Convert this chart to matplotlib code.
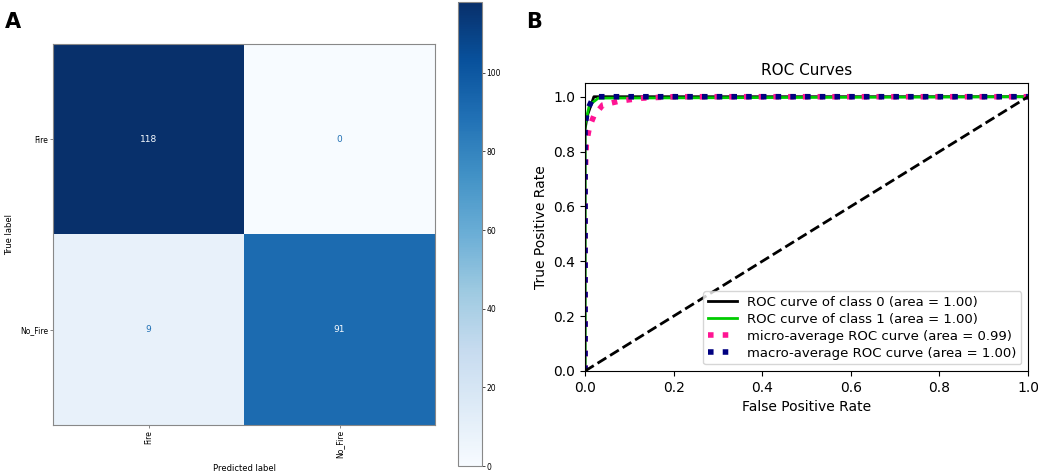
import numpy as np
import matplotlib
matplotlib.use("Agg")
import matplotlib.pyplot as plt

# ---- Data ----
class_labels = ["Fire", "No_Fire"]
cm_values = [[118, 0], [9, 91]]

roc0_fpr = [0.0, 0.0, 0.005, 0.02, 1.0]
roc0_tpr = [0.0, 0.88, 0.93, 1.0, 1.0]
roc1_fpr = [0.0, 0.0, 0.01, 0.03, 1.0]
roc1_tpr = [0.0, 0.90, 0.97, 0.995, 1.0]
micro_fpr = [0.0, 0.0, 0.003, 0.01, 0.02, 0.04, 0.08, 0.13, 0.2, 1.0]
micro_tpr = [0.0, 0.70, 0.83, 0.89, 0.93, 0.97, 0.985, 0.995, 1.0, 1.0]
macro_fpr = [0.0, 0.0, 0.005, 0.015, 0.03, 1.0]
macro_tpr = [0.0, 0.89, 0.95, 0.985, 1.0, 1.0]
roc_labels = ["ROC curve of class 0 (area = 1.00)",
              "ROC curve of class 1 (area = 1.00)",
              "micro-average ROC curve (area = 0.99)",
              "macro-average ROC curve (area = 1.00)"]

fig = plt.figure(figsize=(10.38, 4.76), dpi=100)

# ---- Panel A ----
ax1 = fig.add_axes([0.0511, 0.1071, 0.368, 0.800])
cm = np.array(cm_values)
cmap = plt.get_cmap("Blues")
im = ax1.imshow(cm, cmap=cmap, vmin=0, vmax=cm.max(), aspect="auto")
thresh = cm.max() / 2
for i in range(2):
    for j in range(2):
        col = cmap(0.0) if cm[i, j] > thresh else cmap(0.75)
        ax1.text(j, i, str(cm[i, j]), ha="center", va="center", fontsize=6.5, color=col)
ax1.set_xticks(range(2))
ax1.set_yticks(range(2))
ax1.set_xticklabels(class_labels, rotation=90, fontsize=5.5)
ax1.set_yticklabels(class_labels, fontsize=5.5)
ax1.set_xlabel("Predicted label", fontsize=6)
ax1.set_ylabel("True label", fontsize=6)
ax1.tick_params(length=2, width=0.5, color="#555555", pad=1.5)
for s in ax1.spines.values():
    s.set_edgecolor("#888888")
    s.set_linewidth(0.8)

cax = fig.add_axes([0.441, 0.021, 0.0231, 0.975])
cb = fig.colorbar(im, cax=cax)
cb.set_ticks([0, 20, 40, 60, 80, 100])
cb.ax.tick_params(labelsize=5.5, length=2, width=0.5, pad=1.5)
cb.outline.set_edgecolor("#888888")

fig.text(0.005, 0.975, "A", fontsize=15, fontweight="bold", va="top", ha="left")
fig.text(0.507, 0.975, "B", fontsize=15, fontweight="bold", va="top", ha="left")

# ---- Panel B ----
ax2 = fig.add_axes([0.5636, 0.2206, 0.4268, 0.605])
ax2.plot(roc0_fpr, roc0_tpr, color="black", lw=2, label=roc_labels[0])
ax2.plot(roc1_fpr, roc1_tpr, color="#00cc00", lw=2, label=roc_labels[1])
ax2.plot(micro_fpr, micro_tpr, color="deeppink", ls=":", lw=4, label=roc_labels[2])
ax2.plot(macro_fpr, macro_tpr, color="navy", ls=":", lw=4, label=roc_labels[3])
ax2.plot([0, 1], [0, 1], "k--", lw=2)
ax2.set_xlim(0.0, 1.0)
ax2.set_ylim(0.0, 1.05)
ax2.set_title("ROC Curves", fontsize=11)
ax2.set_xlabel("False Positive Rate", fontsize=10)
ax2.set_ylabel("True Positive Rate", fontsize=10)
ax2.tick_params(labelsize=10)
ax2.legend(loc="lower right", fontsize=9.5, handlelength=2.2, borderpad=0.35, labelspacing=0.3)

fig.savefig("out.png", dpi=100)
